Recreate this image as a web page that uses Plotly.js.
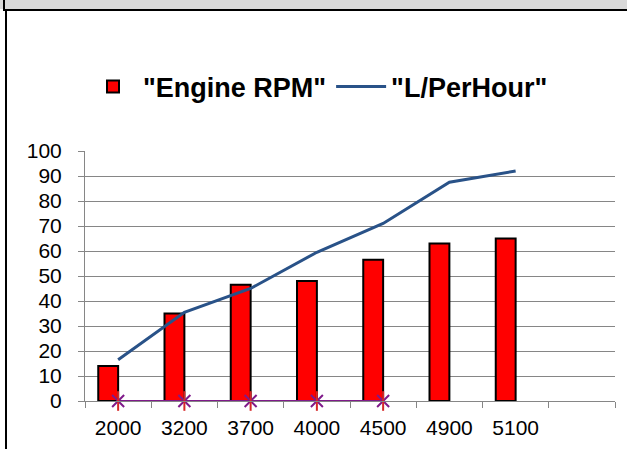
<!DOCTYPE html>
<html>
<head>
<meta charset="utf-8">
<script src="https://cdn.plot.ly/plotly-3.0.1.min.js"></script>
<style>
html,body{margin:0;padding:0;background:#fff;}
#chart{width:627px;height:449px;}
</style>
</head>
<body>
<div id="chart"></div>
<script>
// Data
var categories = ['2000','3200','3700','4000','4500','4900','5100',' '];
var engineRPM = [14, 35, 46.5, 48, 56.5, 63, 65, null];
var litersPerHour = [16.5, 35.5, 45, 59.5, 71, 87.5, 92];
var zeroCats = ['2000','3200','3700','4000','4500'];
var zeroVals = [0, 0, 0, 0, 0];
var yTicks = [0,10,20,30,40,50,60,70,80,90,100];

var FONT = 'Arial, "Liberation Sans", sans-serif';
var purple = '#7f1a8a';

var traces = [
  {
    type: 'bar', name: '"Engine RPM"',
    x: categories, y: engineRPM,
    width: 0.3, offset: -0.3,
    marker: {color: '#ff0000', line: {color: '#000000', width: 2}},
    hoverinfo: 'x+y'
  },
  {
    type: 'scatter', mode: 'lines', name: '"L/PerHour"',
    x: categories.slice(0, litersPerHour.length), y: litersPerHour,
    line: {color: '#295288', width: 3}
  },
  {
    type: 'scatter', mode: 'lines+markers', showlegend: false,
    x: zeroCats, y: zeroVals, cliponaxis: false,
    line: {color: purple, width: 2},
    marker: {symbol: 'x-thin-open', size: 12, line: {color: purple, width: 2}}
  },
  {
    type: 'scatter', mode: 'markers', showlegend: false,
    x: zeroCats, y: zeroVals, cliponaxis: false,
    marker: {symbol: 'line-ns-open', size: 14, line: {color: purple, width: 2}}
  }
];

function px2x(px){ return (px - 85) / 530; }
function py2y(py){ return (401 - py) / 250; }

var layout = {
  width: 627, height: 449,
  margin: {l: 85, r: 12, t: 151, b: 48, pad: 0},
  paper_bgcolor: '#ffffff', plot_bgcolor: 'rgba(0,0,0,0)',
  font: {family: FONT, color: '#000000', size: 21},
  showlegend: true,
  legend: {
    orientation: 'h', x: px2x(318), xanchor: 'center',
    y: py2y(87), yanchor: 'middle',
    font: {family: FONT, size: 27, color: '#000000', weight: 'bold'},
    bgcolor: 'rgba(0,0,0,0)', itemwidth: 50,
    traceorder: 'normal'
  },
  bargap: 0,
  xaxis: {
    type: 'category', categoryorder: 'array', categoryarray: categories,
    range: [-0.5, 7.5], fixedrange: true,
    showgrid: false, showline: true, linecolor: '#868686', linewidth: 1,
    ticks: 'outside', tickson: 'boundaries', ticklen: 6, tickcolor: '#868686',
    ticklabelstandoff: 8,
    tickfont: {family: FONT, size: 21, color: '#000000'},
    zeroline: false
  },
  yaxis: {
    range: [0, 100], tickmode: 'array', tickvals: yTicks, ticktext: yTicks.map(String),
    showgrid: true, gridcolor: '#868686', gridwidth: 1,
    showline: true, linecolor: '#868686', linewidth: 1,
    ticks: 'outside', ticklen: 6, tickcolor: '#868686',
    ticklabelstandoff: 12,
    tickfont: {family: FONT, size: 21, color: '#000000'},
    zeroline: false, fixedrange: true
  },
  shapes: [
    {type: 'rect', xref: 'paper', yref: 'paper', layer: 'below',
     x0: px2x(0), x1: px2x(627), y0: py2y(9), y1: py2y(0),
     fillcolor: '#d9d9d9', line: {width: 0}},
    {type: 'line', xref: 'paper', yref: 'paper',
     x0: px2x(3), x1: px2x(627), y0: py2y(10), y1: py2y(10),
     line: {color: '#000000', width: 2}},
    {type: 'line', xref: 'paper', yref: 'paper',
     x0: px2x(6), x1: px2x(6), y0: py2y(10), y1: py2y(449),
     line: {color: '#000000', width: 2}},
    {type: 'line', xref: 'paper', yref: 'paper',
     x0: px2x(4), x1: px2x(4), y0: py2y(0), y1: py2y(10),
     line: {color: '#000000', width: 2}}
  ]
};

Plotly.newPlot('chart', traces, layout, {displayModeBar: false, staticPlot: true});
</script>
</body>
</html>
